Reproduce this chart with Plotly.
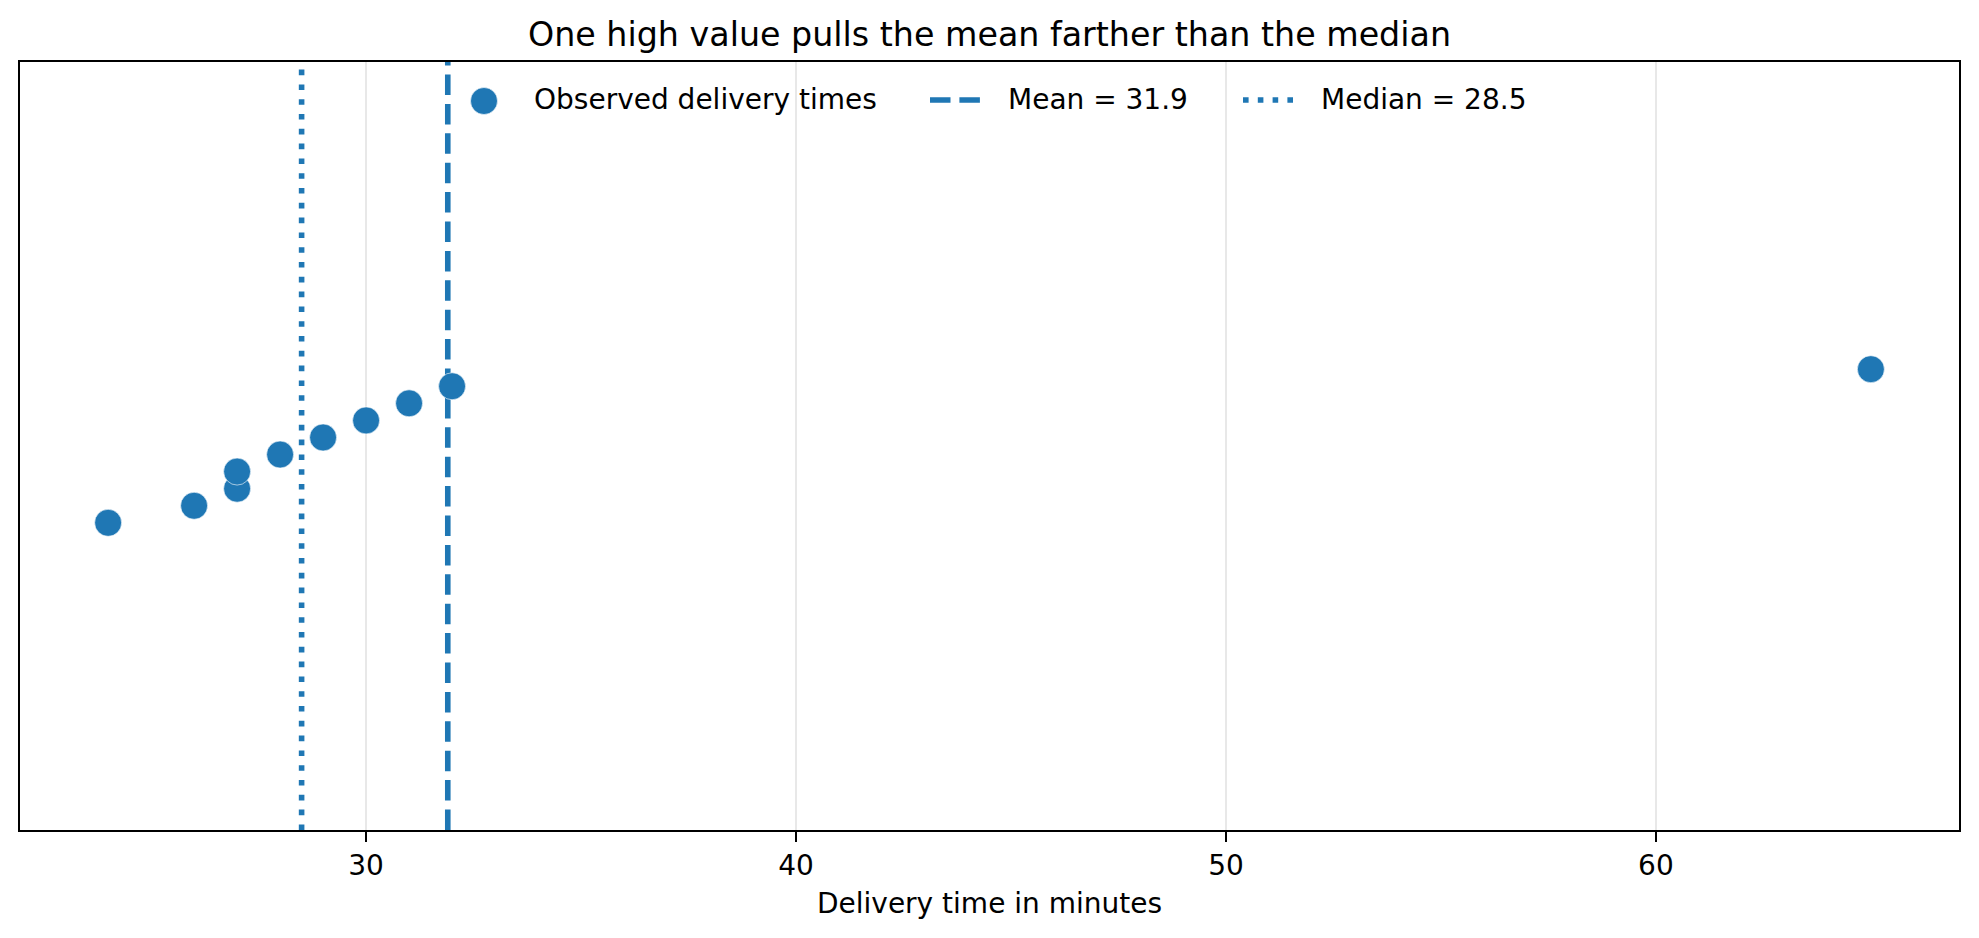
import numpy as np
import plotly.graph_objects as go

# ---- data ----
delivery_minutes = [24, 26, 27, 27, 28, 29, 30, 31, 32, 65]
jitter_y = [-0.1, -0.0778, -0.0556, -0.0333, -0.0111, 0.0111, 0.0333, 0.0556, 0.0778, 0.1]
x_ticks = [30, 40, 50, 60]

mean_val = float(np.mean(delivery_minutes))
median_val = float(np.median(delivery_minutes))

series_label = "Observed delivery times"
mean_label = f"Mean = {mean_val:.1f}"
median_label = f"Median = {median_val:.1f}"

BLUE = "#1f77b4"
FONT = "DejaVu Sans"
W, H = 1979, 938
L, R, T, B = 20, 20, 62, 108
DASH = "20.5px,8.9px"
DOT = "5.6px,9.2px"
LW = 5.6

span = max(delivery_minutes) - min(delivery_minutes)
x_range = [min(delivery_minutes) - 0.05 * span, max(delivery_minutes) + 0.05 * span]
y_range = [-0.5, 0.5]

fig = go.Figure()

fig.add_trace(go.Scatter(
    x=[mean_val, mean_val], y=y_range, mode="lines",
    line=dict(color=BLUE, width=LW, dash=DASH),
    name=mean_label, showlegend=False, hoverinfo="skip",
))
fig.add_trace(go.Scatter(
    x=[median_val, median_val], y=y_range, mode="lines",
    line=dict(color=BLUE, width=LW, dash=DOT),
    name=median_label, showlegend=False, hoverinfo="skip",
))
fig.add_trace(go.Scatter(
    x=delivery_minutes, y=jitter_y, mode="markers",
    marker=dict(color=BLUE, size=27, line=dict(color="white", width=0.6)),
    name=series_label, showlegend=False,
))

pw = W - L - R
ph = H - T - B
def px_x(px):
    return (px - L) / pw
def px_y(py):
    return (H - B - py) / ph

LEG_Y = 100

# legend (drawn as shapes + text, matplotlib-style spacing)
shapes = [
    dict(type="circle", xref="paper", yref="paper", xsizemode="pixel", ysizemode="pixel",
         xanchor=px_x(484), yanchor=px_y(LEG_Y + 1),
         x0=-13.5, x1=13.5, y0=-13.5, y1=13.5,
         fillcolor=BLUE, line=dict(color="white", width=0.6), layer="above"),
    dict(type="line", xref="paper", yref="paper",
         x0=px_x(930), x1=px_x(985.6), y0=px_y(LEG_Y), y1=px_y(LEG_Y),
         line=dict(color=BLUE, width=LW, dash=DASH)),
    dict(type="line", xref="paper", yref="paper",
         x0=px_x(1243), x1=px_x(1298.6), y0=px_y(LEG_Y), y1=px_y(LEG_Y),
         line=dict(color=BLUE, width=LW, dash=DOT)),
]
annotations = []
for label, xpx in [(series_label, 532), (mean_label, 1006), (median_label, 1319)]:
    annotations.append(dict(
        text=label, xref="paper", yref="paper", x=px_x(xpx), y=px_y(LEG_Y),
        xanchor="left", yanchor="middle", showarrow=False,
        font=dict(family=FONT, size=28, color="black"),
    ))

fig.update_layout(
    width=W, height=H,
    margin=dict(l=L, r=R, t=T, b=B),
    paper_bgcolor="white", plot_bgcolor="white",
    font=dict(family=FONT, size=28, color="black"),
    title=dict(
        text="One high value pulls the mean farther than the median",
        font=dict(family=FONT, size=33.3, color="black"),
        x=0.5, xref="paper", xanchor="center",
        y=1 - 34 / H, yref="container", yanchor="middle",
    ),
    showlegend=False,
    shapes=shapes,
    annotations=annotations,
    xaxis=dict(
        range=x_range, tickvals=x_ticks, ticktext=[str(v) for v in x_ticks],
        showgrid=True, gridcolor="#e8e8e8", gridwidth=2.2,
        showline=True, linecolor="black", linewidth=2.2, mirror=True,
        ticks="outside", ticklen=9.7, tickwidth=2.2, tickcolor="black",
        tickfont=dict(family=FONT, size=28, color="black"),
        zeroline=False,
        title=dict(text="Delivery time in minutes", font=dict(family=FONT, size=28, color="black"), standoff=12),
    ),
    yaxis=dict(
        range=y_range, showticklabels=False, ticks="", showgrid=False, zeroline=False,
        showline=True, linecolor="black", linewidth=2.2, mirror=True,
    ),
)

fig.write_html("out.html")
